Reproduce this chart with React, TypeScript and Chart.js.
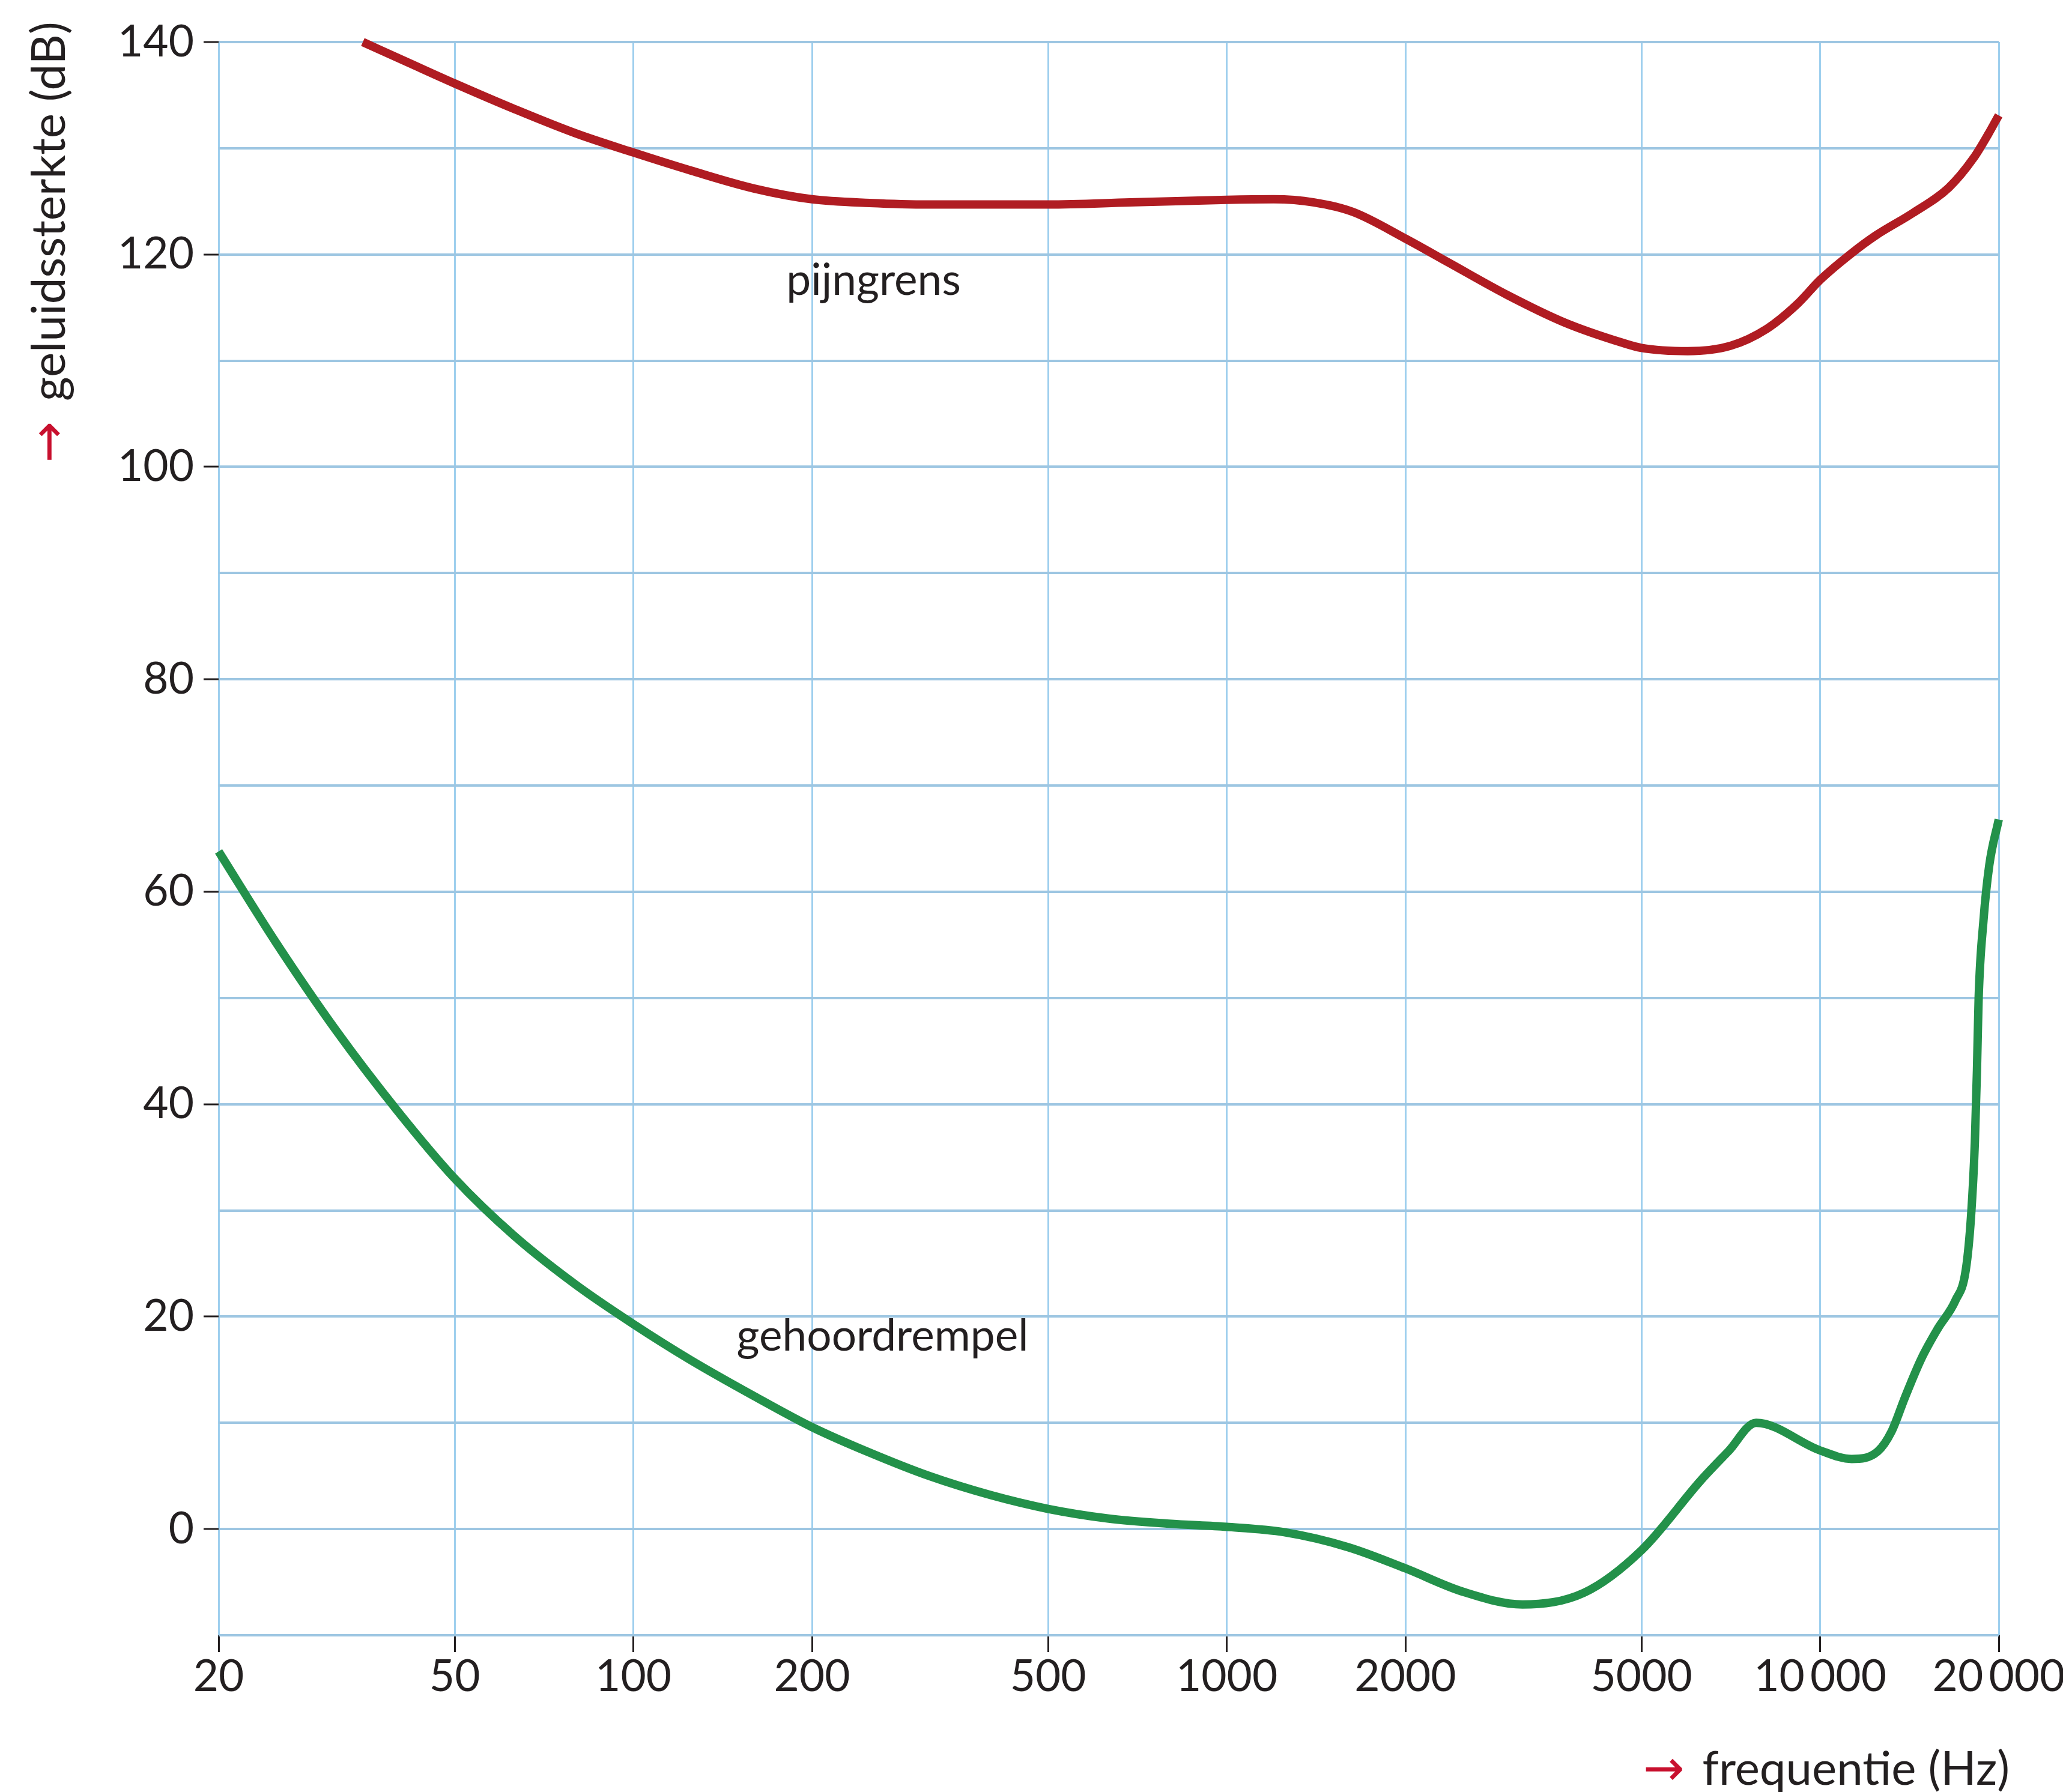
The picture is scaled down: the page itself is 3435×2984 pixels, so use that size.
import React, { useEffect, useRef } from 'react';
import { Chart, registerables } from 'chart.js';

Chart.register(...registerables);

// ---- data ----
const xTickValues = [20, 50, 100, 200, 500, 1000, 2000, 5000, 10000, 20000];
const xTickLabels = ['20', '50', '100', '200', '500', '1000', '2000', '5000', '10\u2009000', '20\u2009000'];
const yTickValues = [-10, 0, 10, 20, 30, 40, 50, 60, 70, 80, 90, 100, 110, 120, 130, 140];
const yTickLabels = ['', '0', '', '20', '', '40', '', '60', '', '80', '', '100', '', '120', '', '140'];

const pijngrensFreq = [35, 42, 50, 63, 80, 100, 125, 160, 200, 250, 315, 500, 686, 1000, 1200, 1404, 1633, 2000, 2372, 2967, 3708, 4635, 5000, 5983, 7060, 8130, 9180, 10000, 11290, 12420, 14330, 16480, 18150, 19190, 20000];
const pijngrensDb = [140, 138.0, 136.1, 133.7, 131.4, 129.6, 127.9, 126.2, 125.2, 124.85, 124.7, 124.7, 124.9, 125.15, 125.2, 124.9, 124.0, 121.5, 119.2, 116.2, 113.6, 111.7, 111.2, 110.9, 111.4, 113.0, 115.4, 117.6, 120.1, 121.8, 123.9, 126.3, 129.1, 131.3, 133.1];

const gehoordrempelFreq = [20, 25, 31.5, 40, 50, 63, 80, 100, 125, 160, 200, 250, 315, 400, 500, 630, 800, 1000, 1250, 1600, 2000, 2500, 3150, 4000, 5000, 6300, 7000, 7800, 10000, 11300, 12500, 13200, 13900, 14800, 15800, 16900, 17600, 17970, 18230, 18380, 18500, 18850, 19280, 20000];
const gehoordrempelDb = [63.8, 55.2, 47.0, 39.4, 33.0, 27.6, 23.0, 19.3, 15.9, 12.5, 9.6, 7.2, 5.0, 3.2, 1.9, 1.0, 0.5, 0.2, -0.3, -1.7, -3.7, -5.9, -7.1, -6.0, -2.0, 4.6, 7.3, 10.0, 7.4, 6.6, 7.3, 9.2, 12.4, 16.0, 18.9, 21.5, 24.4, 29.6, 36.4, 43.2, 50.0, 57.3, 62.5, 66.8];

const seriesNames = ['pijngrens', 'gehoordrempel'];
const labelAnchorFreq = [254, 263];
const labelAnchorDb = [116.2, 16.8];

const yTitle = 'geluidssterkte (dB)';
const xTitle = 'frequentie (Hz)';
const arrowGlyph = '\u2192';

// ---- styles ----
const W = 3435;
const H = 2984;
const FONT_FAMILY = 'Lato, "Open Sans", sans-serif';
const FONT_SIZE = 73;
const TITLE_SIZE = 78;
const TEXT = '#231f20';
const RED = '#b01c22';
const GREEN = '#23914a';
const ARROW_RED = '#c8102e';
const GRID_H = '#9dc6e2';
const GRID_V = '#9ecfee';
const LINE_W = 14;

const annotatePlugin = {
  id: 'annotate',
  afterDraw(chart: any) {
    const { ctx, chartArea, scales } = chart;
    const x = scales.x;
    const y = scales.y;
    ctx.save();
    ctx.fillStyle = TEXT;
    ctx.font = `${FONT_SIZE}px ${FONT_FAMILY}`;
    ctx.textAlign = 'center';
    ctx.textBaseline = 'alphabetic';
    seriesNames.forEach((n, i) => {
      ctx.fillText(n, x.getPixelForValue(labelAnchorFreq[i]), y.getPixelForValue(labelAnchorDb[i]));
    });

    // x title (bottom right)
    const xr = chartArea.right + 18;
    const xb = chartArea.bottom + 249;
    ctx.textAlign = 'right';
    ctx.font = `${TITLE_SIZE}px ${FONT_FAMILY}`;
    ctx.fillText(xTitle, xr, xb);
    const tw = ctx.measureText(xTitle).width;
    ctx.font = `82px "DejaVu Sans", sans-serif`;
    ctx.fillStyle = ARROW_RED;
    ctx.fillText(arrowGlyph, xr - tw - 30, xb);

    // y title (rotated, top left)
    ctx.save();
    ctx.translate(108, chartArea.top + 598);
    ctx.rotate(-Math.PI / 2);
    ctx.textAlign = 'left';
    ctx.fillStyle = TEXT;
    ctx.font = `${TITLE_SIZE}px ${FONT_FAMILY}`;
    ctx.fillText(yTitle, 0, 0);
    ctx.textAlign = 'right';
    ctx.fillStyle = ARROW_RED;
    ctx.font = `82px "DejaVu Sans", sans-serif`;
    ctx.fillText(arrowGlyph, -34, 0);
    ctx.restore();

    ctx.restore();
  },
};

export default function App() {
  const canvasRef = useRef<HTMLCanvasElement | null>(null);

  useEffect(() => {
    const canvas = canvasRef.current;
    if (!canvas) return;
    const chart = new Chart(canvas, {
      type: 'line',
      data: {
        datasets: [
          {
            label: seriesNames[0],
            data: pijngrensFreq.map((f, i) => ({ x: f, y: pijngrensDb[i] })),
            borderColor: RED,
            borderWidth: LINE_W,
            pointRadius: 0,
            fill: false,
            cubicInterpolationMode: 'monotone',
            borderCapStyle: 'butt',
            clip: false as any,
          },
          {
            label: seriesNames[1],
            data: gehoordrempelFreq.map((f, i) => ({ x: f, y: gehoordrempelDb[i] })),
            borderColor: GREEN,
            borderWidth: LINE_W,
            pointRadius: 0,
            fill: false,
            cubicInterpolationMode: 'monotone',
            borderCapStyle: 'butt',
            clip: false as any,
          },
        ],
      },
      options: {
        animation: false,
        responsive: false,
        devicePixelRatio: 1,
        layout: { padding: { left: 0, top: 70, right: 107, bottom: 0 } },
        plugins: {
          legend: { display: false },
          tooltip: { enabled: false },
          title: { display: false },
        },
        scales: {
          x: {
            type: 'logarithmic',
            min: 20,
            max: 20000,
            position: 'bottom',
            afterBuildTicks: (s: any) => {
              s.ticks = xTickValues.map((v) => ({ value: v }));
            },
            afterFit: (s: any) => {
              s.height = H - 2723;
              s.paddingLeft = 0;
              s.paddingRight = 0;
            },
            ticks: {
              autoSkip: false,
              maxRotation: 0,
              minRotation: 0,
              padding: -2,
              color: TEXT,
              font: { family: FONT_FAMILY, size: FONT_SIZE },
              callback: (v: any) => {
                const i = xTickValues.indexOf(Number(v));
                return i >= 0 ? xTickLabels[i] : '';
              },
            },
            grid: {
              color: GRID_V,
              lineWidth: 3,
              drawTicks: true,
              tickLength: 28,
              tickColor: TEXT,
              tickWidth: 3,
            },
            border: { display: false },
          },
          y: {
            type: 'linear',
            min: -10,
            max: 140,
            position: 'left',
            afterBuildTicks: (s: any) => {
              s.ticks = yTickValues.map((v) => ({ value: v }));
            },
            afterFit: (s: any) => {
              s.width = 364;
              s.paddingTop = 0;
              s.paddingBottom = 0;
            },
            ticks: {
              autoSkip: false,
              padding: 16,
              color: TEXT,
              font: { family: FONT_FAMILY, size: FONT_SIZE },
              callback: (v: any) => {
                const i = yTickValues.indexOf(Number(v));
                return i >= 0 ? yTickLabels[i] : '';
              },
            },
            grid: {
              color: GRID_H,
              lineWidth: 4,
              drawTicks: true,
              tickLength: 25,
              tickWidth: 3,
              tickColor: (c: any) => {
                const i = c.tick ? yTickValues.indexOf(c.tick.value) : -1;
                return i >= 0 && yTickLabels[i] !== '' ? TEXT : 'rgba(0,0,0,0)';
              },
            },
            border: { display: false },
          },
        },
      },
      plugins: [annotatePlugin],
    } as any);
    return () => chart.destroy();
  }, []);

  return (
    <div style={{ position: 'absolute', left: 0, top: 0, width: W, height: H, background: '#ffffff' }}>
      <canvas ref={canvasRef} width={W} height={H} style={{ display: 'block', width: W, height: H }} />
    </div>
  );
}
